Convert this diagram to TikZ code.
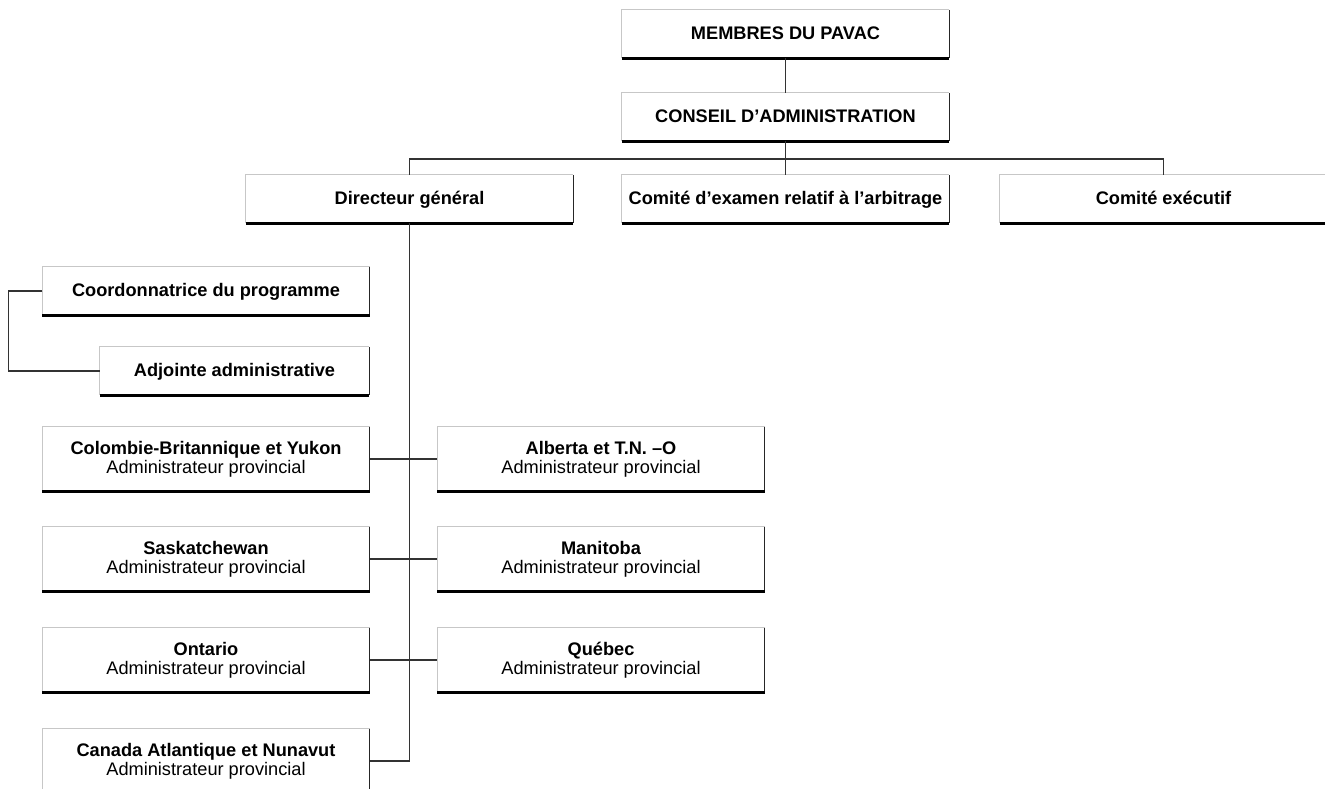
\documentclass[tikz,border=0pt]{standalone}
\usepackage{fontspec}
\setmainfont{Liberation Sans}
\newcommand\boxfont{\fontsize{18.2}{19}\selectfont\bfseries}
\newcommand\admprov[1]{#1\\\mdseries Administrateur provincial}
\tikzset{
  box/.style={minimum width=327pt, minimum height=48pt, inner sep=0pt, align=center, font=\boxfont,
    text height=13pt, text depth=3pt},
  tall/.style={box, minimum height=64pt, text height={}, text depth={}},
  edgelite/.style={draw=black!22, line width=1pt},
  edgedark/.style={draw=black!85, line width=1.2pt},
  edgefoot/.style={draw=black, line width=3pt},
  wire/.style={draw=black!80, line width=1.3pt},
}
\begin{document}
\begin{tikzpicture}[x=1pt,y=-1pt]
\useasboundingbox (0,0) rectangle (1325,788);
	\node[box] (membres) at (785.5,34) {MEMBRES DU PAVAC};
	\node[box] (conseil) at (785.5,117) {CONSEIL D’ADMINISTRATION};
	\node[box] (directeur) at (409.5,199) {Directeur général};
	\node[box] (examen) at (785.5,199) {Comité d’examen relatif à l’arbitrage};
	\node[box] (executif) at (1163.5,199) {Comité exécutif};
	\node[box] (coord) at (206,291) {Coordonnatrice du programme};
	\node[box, minimum width=269pt] (adjointe) at (234.5,371) {Adjointe administrative};
	\node[tall] (colombie) at (206,459) {\admprov{Colombie-Britannique et Yukon}};
	\node[tall] (alberta) at (601,459) {\admprov{Alberta et T.N. –O}};
	\node[tall] (sask) at (206,559) {\admprov{Saskatchewan}};
	\node[tall] (manitoba) at (601,559) {\admprov{Manitoba}};
	\node[tall] (ontario) at (206,660) {\admprov{Ontario}};
	\node[tall] (quebec) at (601,660) {\admprov{Québec}};
	\node[tall] (canada) at (206,761) {\admprov{Canada Atlantique et Nunavut}};
% box edges: light top/left, dark right, heavy foot
\foreach \n in {membres,conseil,directeur,examen,executif,coord,adjointe,colombie,alberta,sask,manitoba,ontario,quebec,canada}{
	\draw[edgelite] (\n.south west) |- (\n.north east);
	\draw[edgedark] (\n.north east) -- (\n.south east);
	\draw[edgefoot] (\n.south west) -- (\n.south east);
}
\coordinate (bar) at (785.5,159);
\draw[wire] (membres) -- (conseil);
\draw[wire] (conseil) -- (examen);
\draw[wire] (directeur.north) |- (bar) -| (executif.north);
\draw[wire] (directeur.south) |- (canada.east);
\draw[wire] (coord.west) -- ++(-34,0) |- (adjointe.west);
\draw[wire] (colombie) -- (alberta);
\draw[wire] (sask) -- (manitoba);
\draw[wire] (ontario) -- (quebec);
\end{tikzpicture}
\end{document}
